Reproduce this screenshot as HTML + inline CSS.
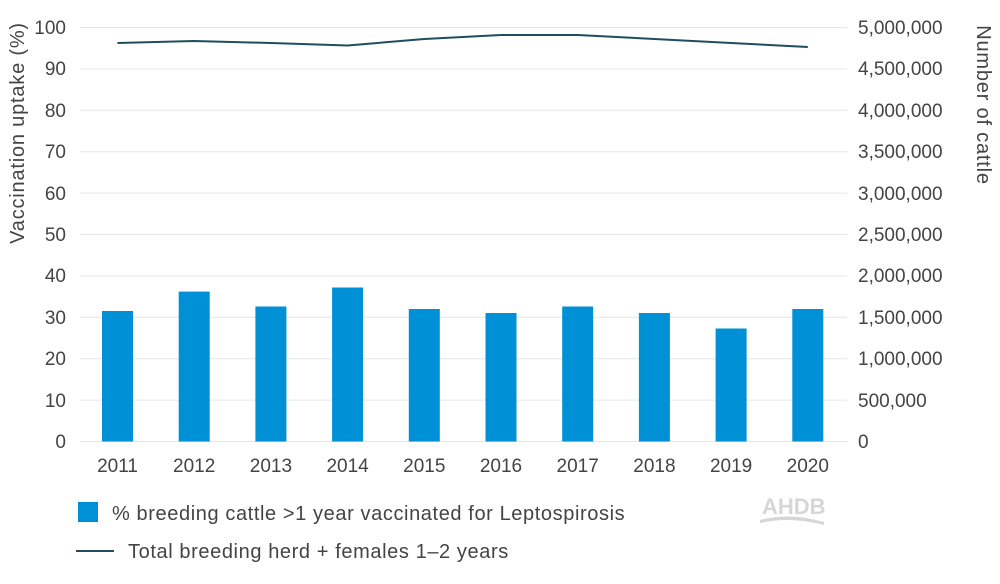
<!DOCTYPE html>
<html><head><meta charset="utf-8"><style>
body{margin:0;background:#fff;}
text{font-family:"Liberation Sans",Arial,sans-serif;fill:#444;}
</style></head><body>
<svg width="1000" height="579" viewBox="0 0 1000 579" xmlns="http://www.w3.org/2000/svg">
<g stroke="#e6e6e6" stroke-width="1">
<line x1="80" x2="847" y1="27.5" y2="27.5"/><line x1="80" x2="847" y1="68.9" y2="68.9"/>
<line x1="80" x2="847" y1="110.3" y2="110.3"/><line x1="80" x2="847" y1="151.7" y2="151.7"/>
<line x1="80" x2="847" y1="193.1" y2="193.1"/><line x1="80" x2="847" y1="234.5" y2="234.5"/>
<line x1="80" x2="847" y1="275.9" y2="275.9"/><line x1="80" x2="847" y1="317.3" y2="317.3"/>
<line x1="80" x2="847" y1="358.7" y2="358.7"/><line x1="80" x2="847" y1="400.1" y2="400.1"/>
<line x1="80" x2="847" y1="441.5" y2="441.5"/>
</g>
<g fill="#0090d6">
<rect x="102" y="311" width="31" height="130.5"/>
<rect x="178.7" y="291.6" width="31" height="149.9"/>
<rect x="255.4" y="306.5" width="31" height="135"/>
<rect x="332.1" y="287.5" width="31" height="154"/>
<rect x="408.8" y="309" width="31" height="132.5"/>
<rect x="485.5" y="313" width="31" height="128.5"/>
<rect x="562.2" y="306.5" width="31" height="135"/>
<rect x="638.9" y="313" width="31" height="128.5"/>
<rect x="715.6" y="328.5" width="31" height="113"/>
<rect x="792.3" y="309" width="31" height="132.5"/>
</g>
<polyline fill="none" stroke="#1f4e5f" stroke-width="2" points="117.5,43 194.2,41 270.9,43 347.6,45.5 424.3,39 501,35 577.7,35 654.4,39 731.1,43 807.8,47"/>
<g font-size="19" text-anchor="end">
<text x="66" y="34">100</text><text x="66" y="75">90</text><text x="66" y="117">80</text>
<text x="66" y="158">70</text><text x="66" y="200">60</text><text x="66" y="241">50</text>
<text x="66" y="282">40</text><text x="66" y="324">30</text><text x="66" y="365">20</text>
<text x="66" y="407">10</text><text x="66" y="448">0</text>
</g>
<g font-size="19" text-anchor="start">
<text x="858" y="34">5,000,000</text><text x="858" y="75">4,500,000</text><text x="858" y="117">4,000,000</text>
<text x="858" y="158">3,500,000</text><text x="858" y="200">3,000,000</text><text x="858" y="241">2,500,000</text>
<text x="858" y="282">2,000,000</text><text x="858" y="324">1,500,000</text><text x="858" y="365">1,000,000</text>
<text x="858" y="407">500,000</text><text x="858" y="448">0</text>
</g>
<g font-size="19" text-anchor="middle">
<text x="117.5" y="472">2011</text><text x="194.2" y="472">2012</text><text x="270.9" y="472">2013</text>
<text x="347.6" y="472">2014</text><text x="424.3" y="472">2015</text><text x="501" y="472">2016</text>
<text x="577.7" y="472">2017</text><text x="654.4" y="472">2018</text><text x="731.1" y="472">2019</text>
<text x="807.8" y="472">2020</text>
</g>
<text font-size="20" letter-spacing="0.8" text-anchor="middle" transform="translate(24,133) rotate(-90)">Vaccination uptake (%)</text>
<text font-size="20" letter-spacing="0.8" text-anchor="middle" transform="translate(977,105) rotate(90)">Number of cattle</text>
<rect x="78" y="502" width="20" height="20" fill="#0090d6"/>
<text x="112" y="520" font-size="20" letter-spacing="0.6">% breeding cattle &gt;1 year vaccinated for Leptospirosis</text>
<line x1="76" x2="114" y1="551" y2="551" stroke="#1f4e5f" stroke-width="2"/>
<text x="128" y="558" font-size="20" letter-spacing="0.6">Total breeding herd + females 1–2 years</text>
<text x="762" y="514" font-size="22" font-weight="bold" style="fill:#d6d6d6">AHDB</text>
<path d="M760 520 Q790 512 824 522 L824 525 Q790 516 760 523 Z" fill="#d6d6d6"/>
</svg>
</body></html>
